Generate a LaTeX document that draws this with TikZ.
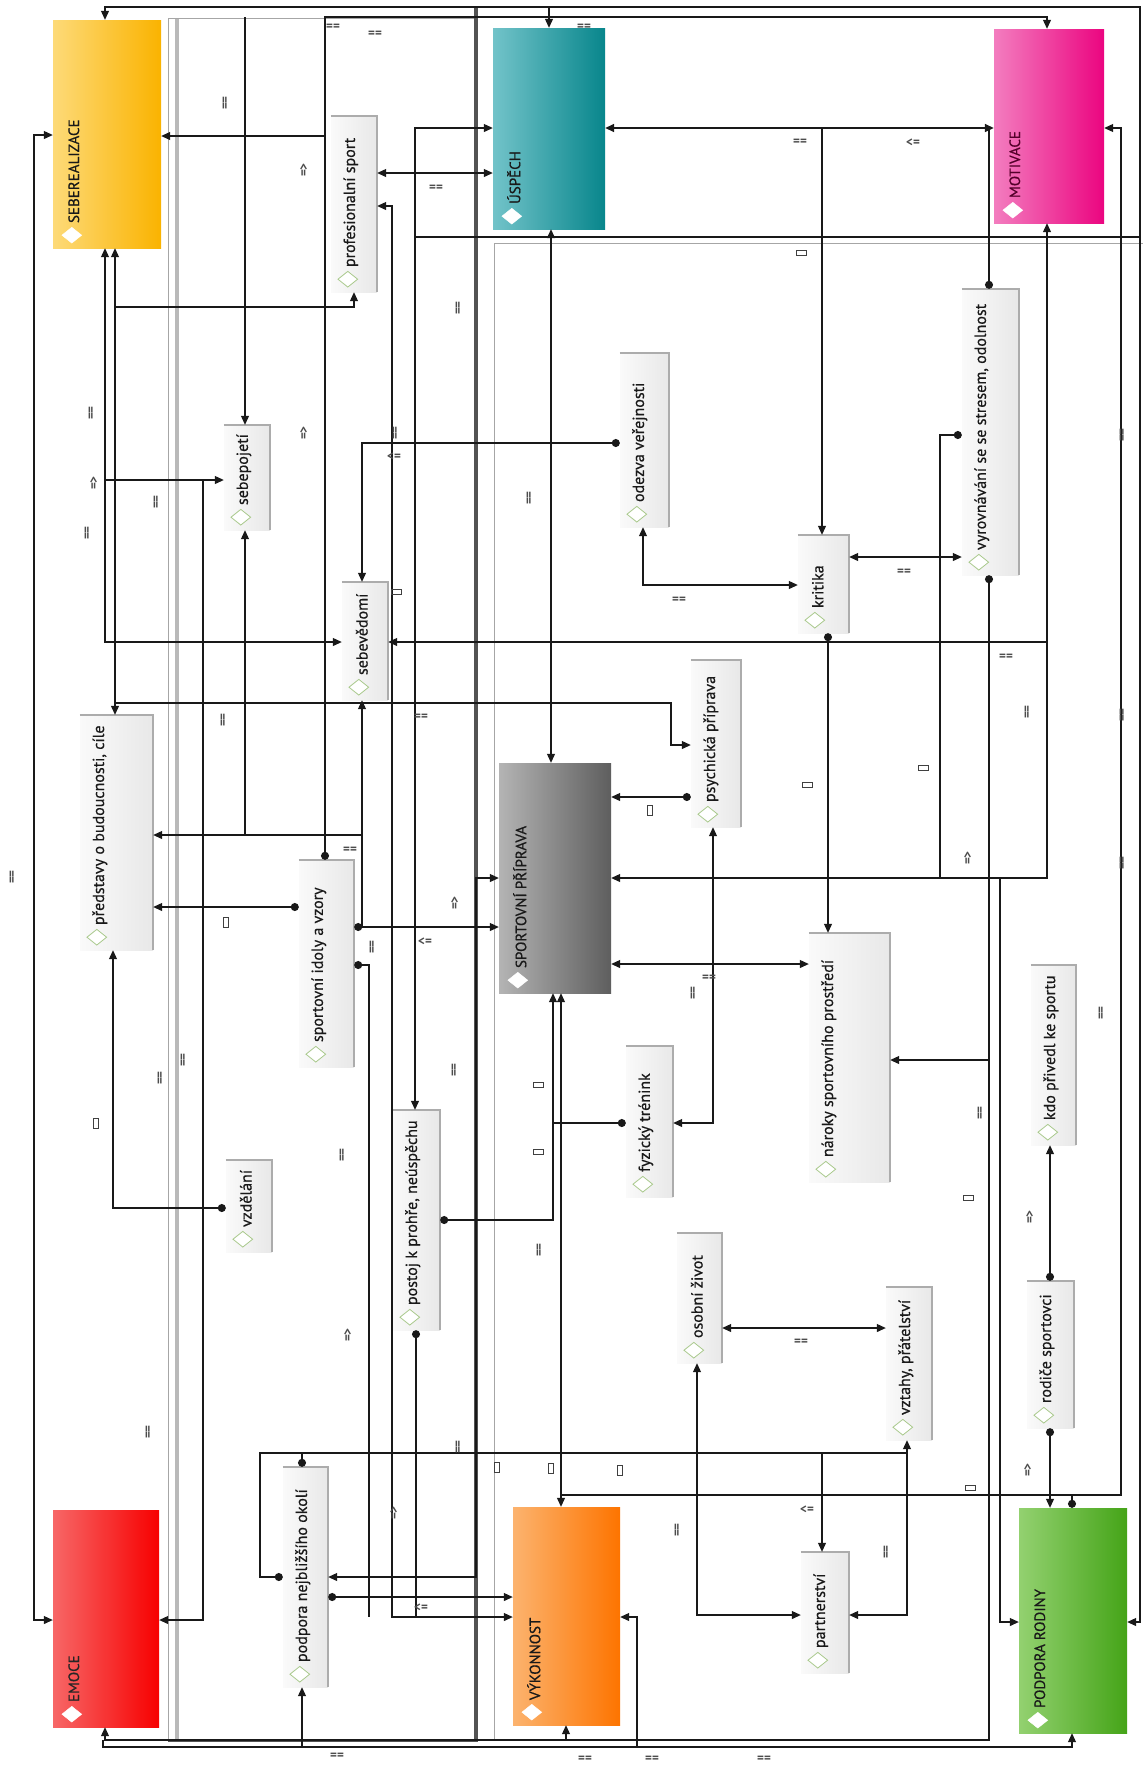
\documentclass[tikz,border=0pt]{standalone}
\usepackage{fontspec}
\setmainfont{PT Sans}
\newfontfamily\semib{PT Sans}[FakeBold=0.6]
\usetikzlibrary{arrows.meta,shapes.geometric}
\definecolor{sebL}{HTML}{FDDA78}\definecolor{sebR}{HTML}{FAB300}
\definecolor{uspL}{HTML}{72C3C9}\definecolor{uspR}{HTML}{08868C}
\definecolor{motL}{HTML}{F37DBF}\definecolor{motR}{HTML}{EB0580}
\definecolor{spL}{HTML}{B4B4B4}\definecolor{spR}{HTML}{5E5E5E}
\definecolor{emoL}{HTML}{F76767}\definecolor{emoR}{HTML}{F70000}
\definecolor{vykL}{HTML}{FCB36E}\definecolor{vykR}{HTML}{FD7400}
\definecolor{prL}{HTML}{93D170}\definecolor{prR}{HTML}{45A418}
\definecolor{diag}{HTML}{A9C98C}
\definecolor{motT}{HTML}{55002A}
\newcommand{\kbox}[6]{%
  \pgfmathsetmacro{\cx}{(#2+#4)/2}\pgfmathsetmacro{\cy}{(#3+#5)/2}%
  \pgfmathsetmacro{\bw}{#4-#2}\pgfmathsetmacro{\bh}{#5-#3}%
  \node[kbox, minimum width=\bw pt, minimum height=\bh pt] (#1) at (\cx,\cy) {};
  \draw[kshadow] (#1.north west) -- (#1.north east) -- (#1.south east);
  \node[kdia] at ([xshift=17pt,yshift=13pt]#1.south west) {};
  \node[klab] at ([xshift=20pt,yshift=25pt]#1.south west) {#6};
}
\newcommand{\bbox}[9]{%
  \pgfmathsetmacro{\cx}{(#2+#4)/2}\pgfmathsetmacro{\cy}{(#3+#5)/2}%
  \pgfmathsetmacro{\bw}{#4-#2}\pgfmathsetmacro{\bh}{#5-#3}%
  \node[bbx, left color=#6, right color=#7, minimum width=\bw pt, minimum height=\bh pt] (#1) at (\cx,\cy) {};
  \node[bdia] at ([xshift=19pt,yshift=13pt]#1.south west) {};
  \node[blab, text=#9] at ([xshift=21pt,yshift=25pt]#1.south west) {#8};
}
\begin{document}
\begin{tikzpicture}[x=1pt,y=-1pt,
  tri/.tip={Triangle[length=9pt,width=8pt]},
  dt/.tip={Circle[length=8pt]},
  conn/.style={line width=1.1pt, draw=black!90},
  kbox/.style={rectangle, inner sep=0pt, left color=gray!4, right color=gray!18},
  kshadow/.style={draw=gray!65, line width=2.2pt},
  kdia/.style={diamond, draw=diag, fill=white, line width=0.8pt, minimum width=20pt, minimum height=16pt, inner sep=0pt},
  klab/.style={rotate=90, anchor=west, inner sep=0pt, font=\semib\fontsize{16}{18}\selectfont, text=black!90},
  bbx/.style={rectangle, inner sep=0pt},
  bdia/.style={diamond, fill=white, draw=white, minimum width=20pt, minimum height=16pt, inner sep=0pt},
  blab/.style={rotate=90, anchor=west, inner sep=0pt, font=\semib\fontsize{15}{17}\selectfont},
  lab/.style={font=\fontsize{13}{14}\selectfont\bfseries, text=black!70, inner sep=1pt},
  rlab/.style={lab, rotate=90},
  sq/.style={draw=black!75, line width=0.9pt, minimum width=5pt, minimum height=10pt, inner sep=0pt},
  sqw/.style={sq, minimum width=10pt, minimum height=5pt},
  lane/.style={draw=gray!70, line width=1pt},
  lanethick/.style={draw=gray!65!black, line width=3.5pt},
]
\useasboundingbox[fill=white] (0,0) rectangle (1143,1765);
% lanes
\draw[lane] (168,18) -- (168,1740);
\draw[lanethick, draw=gray!55] (177,18) -- (177,1740);
\draw[lane] (168,18) -- (476,18);
\draw[lanethick] (476,7) -- (476,1742);
\draw[lanethick, line width=2.5pt] (168,1741) -- (476,1741);
\draw[lane] (494,243) -- (494,1740);
\draw[lane] (494,243) -- (1143,243);
% big boxes
\bbox{seb}{53}{20}{161}{248}{sebL}{sebR}{SEBEREALIZACE}{black!90}
\bbox{usp}{493}{28}{605}{229}{uspL}{uspR}{ÚSPĚCH}{black!90}
\bbox{mot}{994}{29}{1104}{223}{motL}{motR}{MOTIVACE}{motT}
\bbox{sp}{499}{763}{611}{993}{spL}{spR}{SPORTOVNÍ PŘÍPRAVA}{black!90}
\bbox{emo}{53}{1510}{159}{1727}{emoL}{emoR}{EMOCE}{black!85}
\bbox{vyk}{513}{1507}{620}{1725}{vykL}{vykR}{VÝKONNOST}{black!90}
\bbox{pr}{1019}{1508}{1127}{1733}{prL}{prR}{PODPORA RODINY}{black!90}
% small boxes
\kbox{ps}{331}{116}{377}{292}{profesionalní sport}
\kbox{sepo}{224}{425}{270}{530}{sebepojetí}
\kbox{sev}{342}{582}{388}{700}{sebevědomí}
\kbox{pred}{80}{715}{153}{950}{představy o budoucnosti, cíle}
\kbox{ode}{620}{353}{669}{527}{odezva veřejnosti}
\kbox{kri}{798}{535}{849}{633}{kritika}
\kbox{vyr}{962}{289}{1019}{575}{vyrovnávání se se stresem, odolnost}
\kbox{psy}{691}{660}{741}{827}{psychická příprava}
\kbox{idol}{299}{860}{354}{1067}{sportovní idoly a vzory}
\kbox{vzd}{226}{1160}{272}{1252}{vzdělání}
\kbox{pos}{393}{1110}{440}{1330}{postoj k prohře, neúspěchu}
\kbox{fyz}{626}{1046}{673}{1197}{fyzický trénink}
\kbox{nar}{809}{933}{890}{1182}{nároky sportovního prostředí}
\kbox{kdo}{1031}{965}{1076}{1145}{kdo přivedl ke sportu}
\kbox{oso}{677}{1233}{722}{1363}{osobní život}
\kbox{vzt}{886}{1287}{932}{1440}{vztahy, přátelství}
\kbox{rod}{1027}{1281}{1074}{1428}{rodiče sportovci}
\kbox{pod}{283}{1467}{328}{1687}{podpora nejbližšího okolí}
\kbox{par}{801}{1552}{849}{1673}{partnerství}
% connectors
\draw[conn,tri-tri] (seb.north -| 105,0) -- (105,7) -- (1140,7) -- (1140,1622) -- (pr.east |- 0,1622);
\draw[conn,-tri] (549,7) -- (usp.north -| 549,0);
\draw[conn,dt-tri] (idol.north -| 325,0) -- (325,17) -- (1047,17) -- (mot.north -| 1047,0);
\draw[conn,-tri] (245,17) -- (sepo.north -| 245,0);
\draw[conn,-tri] (325,136) -- (seb.east |- 0,136);
\draw[conn,tri-tri] (seb.west |- 0,135) -- (34,135) -- (34,1620) -- (emo.west |- 0,1620);
\draw[conn,tri-tri] (seb.south -| 105,0) -- (105,642) -- (sev.west |- 0,642);
\draw[conn,-tri] (105,480) -- (sepo.west |- 0,480);
\draw[conn,-tri] (203,480) -- (203,1620) -- (emo.east |- 0,1620);
\draw[conn,tri-tri] (seb.south -| 115,0) -- (pred.north -| 115,0);
\draw[conn,-tri] (115,307) -- (354,307) -- (ps.south -| 354,0);
\draw[conn,-tri] (115,703) -- (671,703) -- (671,745) -- (psy.west |- 0,745);
\draw[conn,tri-tri] (ps.east |- 0,173) -- (usp.west |- 0,173);
\draw[conn,tri-tri] (ps.east |- 0,206) -- (392,206) -- (392,1617) -- (vyk.west |- 0,1617);
\draw[conn,dt-] (idol.east |- 0,965) -- (369,965) -- (369,1617);
\draw[conn,dt-] (pos.south -| 416,0) -- (416,1617);
\draw[conn,tri-tri] (pos.north -| 415,0) -- (415,128) -- (usp.west |- 0,128);
\draw[conn] (415,237) -- (1140,237);
\draw[conn,tri-tri] (usp.south -| 551,0) -- (sp.north -| 551,0);
\draw[conn,tri-tri,line width=1.6pt] (usp.east |- 0,128) -- (mot.west |- 0,128);
\draw[conn,-tri] (822,128) -- (kri.north -| 822,0);
\draw[conn,dt-] (vyr.north -| 989,0) -- (989,128);
\draw[conn,dt-tri] (idol.east |- 0,927) -- (sp.west |- 0,927);
\draw[conn] (362,927) -- (362,835);
\draw[conn,-tri] (362,835) -- (sev.south -| 362,0);
\draw[conn,-tri] (362,835) -- (pred.east |- 0,835);
\draw[conn,-tri] (245,835) -- (sepo.south -| 245,0);
\draw[conn,dt-tri] (idol.west |- 0,907) -- (pred.east |- 0,907);
\draw[conn,dt-tri] (ode.west |- 0,443) -- (362,443) -- (sev.north -| 362,0);
\draw[conn,tri-tri] (sev.east |- 0,642) -- (1047,642) -- (mot.south -| 1047,0);
\draw[conn,-tri] (1047,642) -- (1047,878) -- (sp.east |- 0,878);
\draw[conn,dt-tri] (kri.south -| 828,0) -- (nar.north -| 828,0);
\draw[conn,tri-tri] (ode.south -| 643,0) -- (643,585) -- (kri.west |- 0,585);
\draw[conn,tri-tri] (kri.east |- 0,557) -- (vyr.west |- 0,557);
\draw[conn,dt-] (vyr.west |- 0,435) -- (940,435) -- (940,878);
\draw[conn,dt-tri] (vyr.south -| 989,0) -- (989,1740) -- (105,1740) -- (emo.south -| 105,0);
\draw[conn,-tri] (989,1060) -- (nar.east |- 0,1060);
\draw[conn,-tri] (566,1740) -- (vyk.south -| 566,0);
\draw[conn,-tri] (1000,878) -- (1000,1622) -- (pr.west |- 0,1622);
\draw[conn,dt-tri] (psy.west |- 0,797) -- (sp.east |- 0,797);
\draw[conn,tri-tri] (psy.south -| 713,0) -- (713,1123) -- (fyz.east |- 0,1123);
\draw[conn,tri-tri] (sp.east |- 0,964) -- (nar.west |- 0,964);
\draw[conn,dt-tri] (fyz.west |- 0,1123) -- (553,1123) -- (sp.south -| 553,0);
\draw[conn,dt-] (pos.east |- 0,1220) -- (553,1220) -- (553,1123);
\draw[conn,tri-tri] (sp.south -| 561,0) -- (vyk.north -| 561,0);
\draw[conn,dt-] (pr.north -| 1072,0) -- (1072,1495);
\draw[conn,-tri] (561,1495) -- (1121,1495) -- (1121,128) -- (mot.east |- 0,128);
\draw[conn,dt-tri] (rod.north -| 1050,0) -- (kdo.south -| 1050,0);
\draw[conn,dt-tri] (rod.south -| 1050,0) -- (pr.north -| 1050,0);
\draw[conn,tri-tri] (oso.east |- 0,1328) -- (vzt.west |- 0,1328);
\draw[conn,tri-tri] (oso.south -| 697,0) -- (697,1615) -- (par.west |- 0,1615);
\draw[conn,tri-tri] (vzt.south -| 907,0) -- (907,1615) -- (par.east |- 0,1615);
\draw[conn,dt-] (pod.north -| 302,0) -- (302,1453) -- (907,1453);
\draw[conn,-tri] (822,1453) -- (par.north -| 822,0);
\draw[conn,dt-] (pod.west |- 0,1577) -- (260,1577) -- (260,1453) -- (302,1453);
\draw[conn,tri-tri] (sp.west |- 0,878) -- (476,878) -- (476,1577) -- (pod.east |- 0,1577);
\draw[conn,dt-tri] (pod.east |- 0,1597) -- (vyk.west |- 0,1597);
\draw[conn,tri-tri] (vyk.east |- 0,1617) -- (637,1617) -- (637,1747) -- (1072,1747) -- (pr.south -| 1072,0);
\draw[conn] (637,1747) -- (103,1747) -- (103,1740);
\draw[conn,-tri] (302,1747) -- (pod.south -| 302,0);
\draw[conn,dt-tri] (vzd.west |- 0,1208) -- (113,1208) -- (pred.south -| 113,0);
% labels
\foreach \p in {(226,103),(459,308),(92,413),(396,433),(88,533),(157,502),(530,498),(224,720),(13,877),(161,1078),(184,1060),(373,947),(343,1155),(455,1070),(540,1250),(694,993),(981,1113),(1102,1013),(1123,863),(1028,712),(1123,435),(1123,715),(149,1432),(459,1447),(678,1530),(887,1552)}
  \node[rlab] at \p {==};
\foreach \p in {(333,27),(375,34),(436,188),(584,27),(800,142),(421,717),(350,850),(679,600),(904,572),(1006,657),(709,978),(801,1342),(337,1756),(585,1759),(652,1759),(764,1759)}
  \node[lab] at \p {==};
\foreach \p in {(304,170),(304,433),(94,483),(455,903),(348,1335),(394,1513),(968,858),(1030,1217),(1028,1470)}
  \node[rlab] at \p {=>};
\foreach \p in {(913,143),(394,457),(425,942),(421,1608),(807,1510)}
  \node[lab] at \p {<=};
\foreach \p in {(650,810),(226,922),(96,1123),(497,1467),(551,1468),(620,1470)}
  \node[sq] at \p {};
\foreach \p in {(801,253),(923,768),(807,785),(396,592),(538,1085),(538,1152),(968,1198),(970,1488)}
  \node[sqw] at \p {};
\end{tikzpicture}
\end{document}
